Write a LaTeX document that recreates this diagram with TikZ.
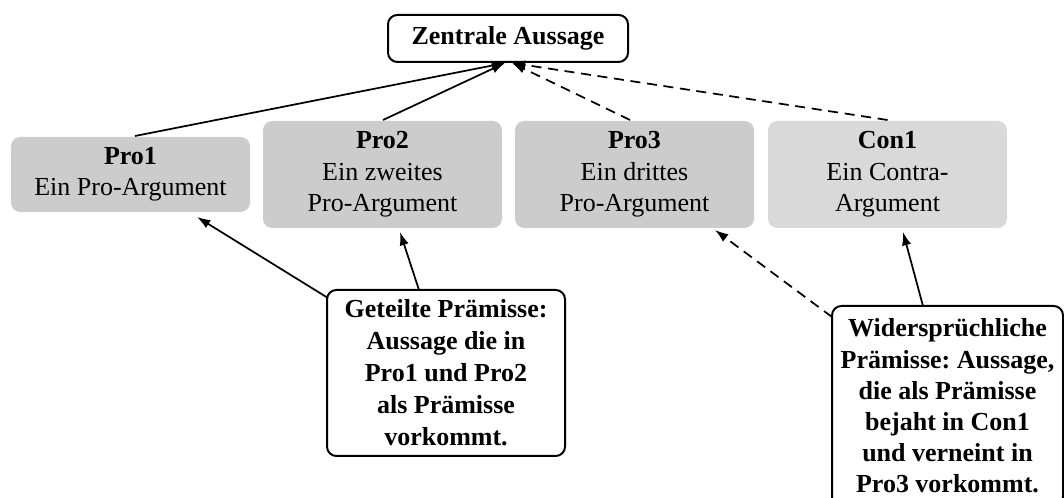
\documentclass[tikz,border=0pt]{standalone}
\usepackage{fontspec}
\setmainfont{Liberation Serif}
\usetikzlibrary{arrows.meta,calc}
\definecolor{profill}{HTML}{CCCCCC}
\definecolor{confill}{HTML}{D9D9D9}
\frenchspacing
\begin{document}
\begin{tikzpicture}[x=0.75pt,y=-0.75pt,
  every node/.style={inner sep=0pt, outer sep=0pt},
  argbox/.style={fill=profill, rounded corners=7pt, minimum width=179.25pt,
    align=center, font=\fontsize{19.5}{23.5}\selectfont},
  oneline/.style={minimum height=56.25pt},
  twoline/.style={minimum height=80.25pt},
  framebox/.style={draw, line width=1.5pt, rounded corners=7pt, fill=white,
    align=center, font=\bfseries\fontsize{19.5}{24}\selectfont},
  arr/.style={-{Latex[length=10pt,width=7pt]}, line width=1.3pt},
  darr/.style={arr, dash pattern=on 7.5pt off 5pt}]
\useasboundingbox (0,0) rectangle (1064,498);

\node[framebox, minimum width=180pt, minimum height=35.25pt] (top) at (508,38.5) {Zentrale Aussage};

\node[argbox, oneline] (pro1) at (130.5,174.5) {\textbf{Pro1}\\Ein Pro-Argument};
\node[argbox, twoline] (pro2) at (382.5,174.5) {\textbf{Pro2}\\Ein zweites\\Pro-Argument};
\node[argbox, twoline] (pro3) at (634.5,174.5) {\textbf{Pro3}\\Ein drittes\\Pro-Argument};
\node[argbox, twoline, fill=confill] (con1) at (887.5,174.5) {\textbf{Con1}\\Ein Contra-\\Argument};

\node[framebox, minimum width=178.5pt, minimum height=124.5pt] (ge) at (446,373)
  {Geteilte Prämisse:\\Aussage die in\\Pro1 und Pro2\\als Prämisse\\vorkommt.};
\node[framebox, minimum width=173.25pt, minimum height=150pt,
  font=\bfseries\fontsize{19.5}{23.4}\selectfont] (wi) at (947.5,406)
  {Widersprüchliche\\Prämisse: Aussage,\\die als Prämisse\\bejaht in Con1\\und verneint in\\Pro3 vorkommt.};

\draw[arr] ($(pro1.north)+(4.5,-1)$) -- ($(top.south)+(-3,1)$);
\draw[arr] ($(pro2.north)+(0.5,-1)$) -- ($(top.south)+(-3,1)$);
\draw[darr] ($(pro3.north)+(-4.5,-1)$) -- ($(top.south)+(4,1)$);
\draw[darr] ($(con1.north)+(0,-1)$) -- ($(top.south)+(4,1)$);

\draw[arr] ($(ge.north west)+(1,8)$) -- ($(pro1.south)+(66.5,5)$);
\draw[arr] ($(ge.north)+(-27,0)$) -- ($(pro2.south)+(17.5,4)$);
\draw[darr] ($(wi.north west)+(0,11)$) -- ($(pro3.south)+(80.5,2)$);
\draw[arr] ($(wi.north)+(-24.5,0)$) -- ($(con1.south)+(15.5,4)$);
\end{tikzpicture}
\end{document}
